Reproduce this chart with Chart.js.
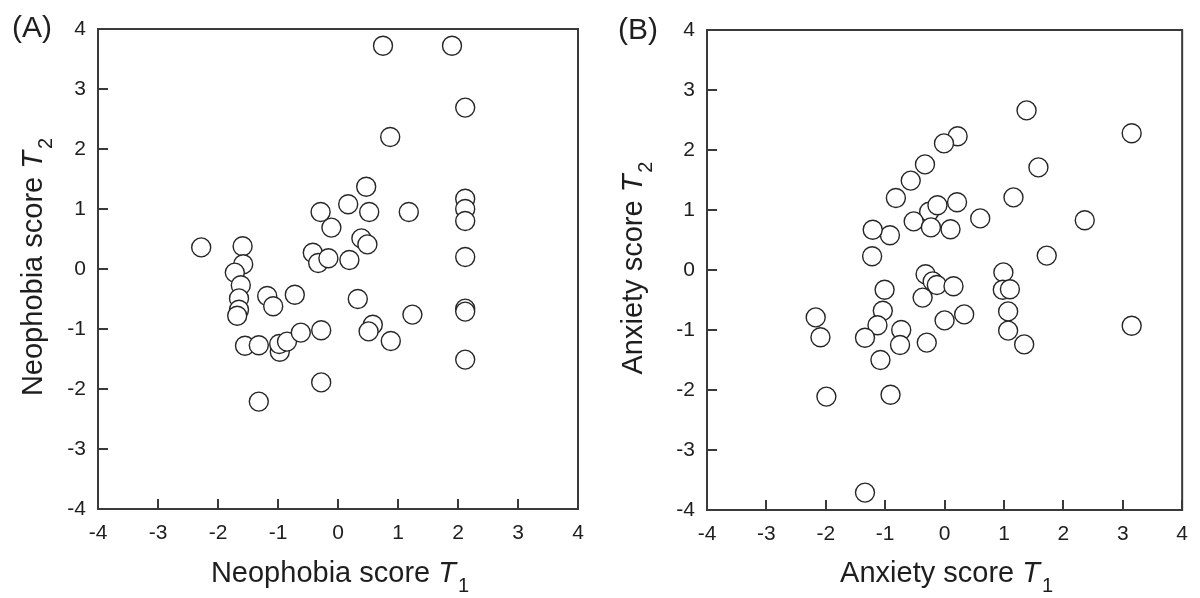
<!DOCTYPE html>
<html>
<head>
<meta charset="utf-8">
<title>Neophobia and anxiety scores, T1 vs T2</title>
<script src="https://cdn.jsdelivr.net/npm/chart.js@4.4.1/dist/chart.umd.min.js"></script>
<style>
    body { margin: 0; background: #fff; }
    .panel { position: absolute; top: 0; width: 600px; height: 598px; }
</style>
</head>
<body>
<div class="panel" style="left:0"><canvas id="chartA" width="600" height="598"></canvas></div>
<div class="panel" style="left:600px"><canvas id="chartB" width="600" height="598"></canvas></div>
<script>
const tickValues = [-4, -3, -2, -1, 0, 1, 2, 3, 4];

// panel A - neophobia
const neoT1 = [-2.28, -1.59, -1.58, -1.72, -1.62, -1.65, -1.65, -1.68, -1.18, -1.08,
    -0.72, -1.55, -1.32, -0.97, -0.98, -0.85, -0.62, -0.28, -1.32, -0.28,
    -0.42, -0.33, -0.16, 0.19, -0.11, -0.29, 0.17, 0.52, 0.47, 0.39,
    0.49, 1.18, 0.87, 0.75, 1.90, 2.12, 2.12, 2.12, 2.12, 2.12,
    2.12, 2.12, 2.12, 0.33, 0.58, 0.51, 1.24, 0.88];
const neoT2 = [0.36, 0.38, 0.08, -0.06, -0.27, -0.49, -0.68, -0.78, -0.45, -0.62,
    -0.43, -1.28, -1.27, -1.38, -1.25, -1.21, -1.06, -1.02, -2.21, -1.89,
    0.27, 0.10, 0.18, 0.15, 0.69, 0.95, 1.08, 0.95, 1.37, 0.51,
    0.41, 0.95, 2.20, 3.72, 3.72, 2.69, 1.17, 1.00, 0.80, 0.20,
    -0.66, -0.71, -1.51, -0.50, -0.93, -1.04, -0.76, -1.20];

// panel B - anxiety
const anxT1 = [1.38, 3.15, 0.22, -0.01, -0.33, -0.57, -0.82, 1.58, 1.16, -0.26,
    -0.12, 0.21, 0.60, -0.52, -0.23, 0.10, -0.92, -1.21, 2.36, 1.72,
    -1.22, 0.99, -0.32, -0.20, -0.13, 0.15, -0.37, -1.01, 0.98, 1.10,
    -2.17, -2.09, -1.99, -1.34, -1.04, -1.13, -1.34, -1.08, -0.91, -0.73,
    -0.75, -0.30, 0.00, 0.33, 1.07, 1.07, 1.34, 3.15];
const anxT2 = [2.66, 2.28, 2.23, 2.11, 1.76, 1.49, 1.20, 1.71, 1.21, 0.97,
    1.08, 1.13, 0.86, 0.81, 0.71, 0.68, 0.58, 0.67, 0.83, 0.24,
    0.23, -0.04, -0.07, -0.19, -0.25, -0.27, -0.46, -0.33, -0.33, -0.32,
    -0.79, -1.12, -2.11, -3.71, -0.68, -0.92, -1.13, -1.50, -2.08, -1.00,
    -1.25, -1.21, -0.84, -0.74, -0.69, -1.01, -1.24, -0.93];

const xTitleA = ["Neophobia score ", "T", "1"];
const yTitleA = ["Neophobia score ", "T", "2"];
const xTitleB = ["Anxiety score ", "T", "1"];
const yTitleB = ["Anxiety score ", "T", "2"];

const fontFamily = '"Liberation Sans", Arial, sans-serif';
const textColor = "#1e1e1e";
const axisColor = "#3a3a3a";

function toPoints(xs, ys) {
    return xs.map((x, i) => ({ x: x, y: ys[i] }));
}

// "Name score T_n" with italic T and a subscript
function drawTitle(ctx, parts, cx, cy, angle) {
    const mainFont = "29px " + fontFamily;
    const italicFont = "italic 29px " + fontFamily;
    const subFont = "20px " + fontFamily;

    ctx.font = mainFont;
    const w0 = ctx.measureText(parts[0]).width;
    ctx.font = italicFont;
    const w1 = ctx.measureText(parts[1]).width;
    ctx.font = subFont;
    const w2 = ctx.measureText(parts[2]).width;

    ctx.save();
    ctx.translate(cx, cy);
    ctx.rotate(angle);
    ctx.fillStyle = textColor;
    ctx.textAlign = "left";
    ctx.textBaseline = "alphabetic";
    let x = -(w0 + w1 + w2 + 2) / 2;
    ctx.font = mainFont;
    ctx.fillText(parts[0], x, 0);
    x += w0;
    ctx.font = italicFont;
    ctx.fillText(parts[1], x, 0);
    x += w1 + 2;
    ctx.font = subFont;
    ctx.fillText(parts[2], x, 10);
    ctx.restore();
}

const framePlugin = {
    id: "frame",
    beforeDatasetsDraw(chart, args, opts) {
        const ctx = chart.ctx;
        const a = chart.chartArea;
        const xs = chart.scales.x;
        const ys = chart.scales.y;

        ctx.save();
        ctx.strokeStyle = axisColor;
        ctx.lineWidth = 2;
        ctx.strokeRect(a.left, a.top, a.right - a.left, a.bottom - a.top);

        // inward tick marks
        ctx.beginPath();
        tickValues.forEach(v => {
            const px = Math.round(xs.getPixelForValue(v));
            ctx.moveTo(px, a.bottom);
            ctx.lineTo(px, a.bottom - 10);
            const py = Math.round(ys.getPixelForValue(v));
            ctx.moveTo(a.left, py);
            ctx.lineTo(a.left + 10, py);
        });
        ctx.stroke();
        ctx.restore();

        drawTitle(ctx, opts.xTitle, (a.left + a.right) / 2 + 2, 582, 0);
        drawTitle(ctx, opts.yTitle, 42, (a.top + a.bottom) / 2 - 2, -Math.PI / 2);

        ctx.save();
        ctx.fillStyle = textColor;
        ctx.font = "30px " + fontFamily;
        ctx.textAlign = "left";
        ctx.textBaseline = "alphabetic";
        ctx.fillText(opts.label, opts.labelX, opts.labelY);
        ctx.restore();
    }
};

function makeChart(id, xs, ys, setup) {
    const ctx = document.getElementById(id).getContext("2d");

    const tickFont = { family: fontFamily, size: 21 };

    return new Chart(ctx, {
        type: "scatter",
        data: {
            datasets: [{
                data: toPoints(xs, ys),
                pointStyle: "circle",
                pointRadius: 9.5,
                pointHoverRadius: 9.5,
                borderWidth: 1.4,
                borderColor: "#262626",
                backgroundColor: "#ffffff"
            }]
        },
        options: {
            responsive: false,
            devicePixelRatio: 1,
            animation: false,
            events: [],
            layout: {
                padding: { top: setup.top, right: setup.right, left: 0, bottom: 0 }
            },
            plugins: {
                legend: { display: false },
                tooltip: { enabled: false },
                frame: setup
            },
            scales: {
                x: {
                    type: "linear",
                    min: -4,
                    max: 4,
                    afterBuildTicks: s => { s.ticks = tickValues.map(v => ({ value: v })); },
                    afterFit: s => { s.height = 598 - setup.bottom; },
                    grid: { display: false, drawTicks: false },
                    border: { display: false },
                    ticks: { font: tickFont, color: textColor, padding: 12, maxRotation: 0 }
                },
                y: {
                    type: "linear",
                    min: -4,
                    max: 4,
                    afterBuildTicks: s => { s.ticks = tickValues.map(v => ({ value: v })); },
                    afterFit: s => { s.width = setup.left; },
                    grid: { display: false, drawTicks: false },
                    border: { display: false },
                    ticks: { font: tickFont, color: textColor, padding: 12 }
                }
            }
        },
        plugins: [framePlugin]
    });
}

makeChart("chartA", neoT1, neoT2, {
    left: 98, right: 22, top: 29, bottom: 509,
    xTitle: xTitleA, yTitle: yTitleA,
    label: "(A)", labelX: 12, labelY: 37
});

makeChart("chartB", anxT1, anxT2, {
    left: 107, right: 13, top: 30, bottom: 510,
    xTitle: xTitleB, yTitle: yTitleB,
    label: "(B)", labelX: 18, labelY: 39
});
</script>
</body>
</html>
